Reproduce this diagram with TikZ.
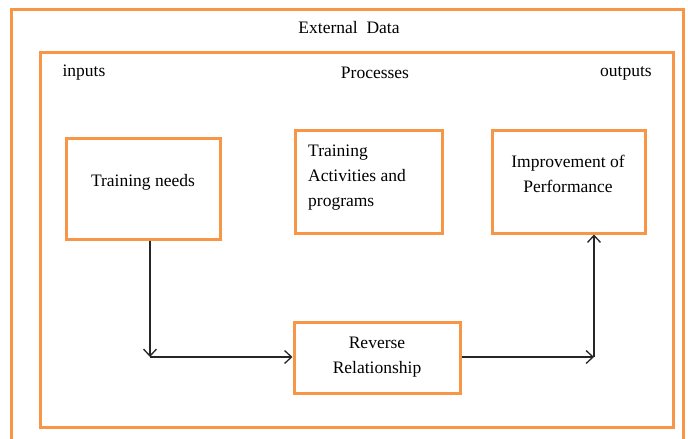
\documentclass[tikz,border=0pt]{standalone}
\usepackage{fontspec}
\setmainfont{Liberation Serif}
\usetikzlibrary{arrows.meta}
\definecolor{boxorange}{HTML}{F79646}
\begin{document}
\begin{tikzpicture}[x=1pt,y=-1pt,
  frame/.style={draw=boxorange,line width=3pt},
  box/.style={frame,inner sep=0pt},
  lbl/.style={font=\fontsize{17.5}{25}\selectfont,inner sep=0pt},
  conn/.style={draw=black!85,line width=1.3pt,-{Straight Barb[length=7pt,width=13pt]}}]
\useasboundingbox (0,0) rectangle (688,439);
\draw[frame] (11,460) -- (11,9) -- (683,9) -- (683,460);
\draw[frame] (40,52) rectangle (673,427);
\node[lbl] (ext) at (349,28) {External\ \ Data};
\node[lbl] (inp) at (84,73) {inputs};
\node[lbl] (proc) at (375,73) {Processes};
\node[lbl] (outp) at (626,73) {outputs};
\node[box,minimum width=154pt,minimum height=101pt] (need) at (143,188.5) {};
\node[lbl] at (143,182) {Training needs};
\node[box,minimum width=147pt,minimum height=103pt] (act) at (368.5,181.5) {};
\node[lbl,align=left,anchor=north west] at (308,145) {Training\\Activities and\\programs};
\node[box,minimum width=153pt,minimum height=103pt] (imp) at (568.5,181.5) {};
\node[lbl,align=center] at (568,173.5) {Improvement of\\Performance};
\node[box,minimum width=166pt,minimum height=71pt] (rev) at (377,357.5) {};
\node[lbl,align=center] at (377,357.5) {Reverse\\Relationship};
\coordinate (c1) at (150,357);
\coordinate (c2) at (594,357);
\draw[conn] (need.south -| c1) -- (c1);
\draw[conn] (c1) -- (rev.west |- c1);
\draw[conn] (rev.east |- c2) -- (c2);
\draw[conn] (c2) -- (imp.south -| c2);
\end{tikzpicture}
\end{document}
